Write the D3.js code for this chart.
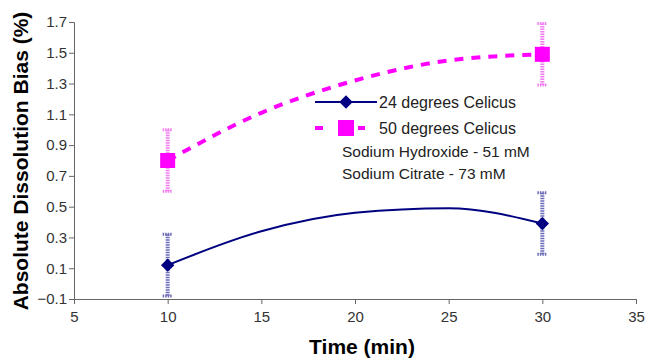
<!DOCTYPE html>
<html>
<head>
<meta charset="utf-8">
<script src="https://cdn.jsdelivr.net/npm/d3@7"></script>
<style>
  body { margin: 0; background: #fff; }
  svg { display: block; font-family: "Liberation Sans", Arial, sans-serif; }
</style>
</head>
<body>
<svg id="chart" width="649" height="358"></svg>
<script>
// measured points (time, bias, error)
const times = [10, 30];
const bias24 = [0.12, 0.39];
const err24 = [0.2, 0.2];
const bias50 = [0.80, 1.49];
const err50 = [0.2, 0.2];

// smoothed curve
const curveTimes = [10, 15, 20, 25, 30];
const curve24 = [0.12, 0.34, 0.46, 0.49, 0.39];
const curve50 = [0.80, 1.11, 1.32, 1.45, 1.49];

const xTicks = [5, 10, 15, 20, 25, 30, 35];
const yTicks = [-0.1, 0.1, 0.3, 0.5, 0.7, 0.9, 1.1, 1.3, 1.5, 1.7];
const legendLabels = ['24 degrees Celicus', '50 degrees Celicus'];
const notes = ['Sodium Hydroxide - 51 mM', 'Sodium Citrate - 73 mM'];

const svg = d3.select('#chart');
const x = d3.scaleLinear().domain([5, 35]).range([74, 636]);
const y = d3.scaleLinear().domain([-0.1, 1.7]).range([299, 22]);

const navy = '#000080';
const magenta = '#ff00ff';

// axes
const xAxis = svg.append('g')
    .attr('transform', `translate(0,${y(-0.1)})`)
    .call(d3.axisBottom(x).tickValues(xTicks).tickSize(5).tickPadding(7).tickFormat(d3.format('d')));
const yAxis = svg.append('g')
    .attr('transform', `translate(${x(5)},0)`)
    .call(d3.axisLeft(y).tickValues(yTicks).tickSize(5).tickPadding(2).tickFormat(d3.format('.1f')));
[xAxis, yAxis].forEach(a => {
    a.select('.domain').attr('stroke', '#666');
    a.selectAll('.tick line').attr('stroke', '#666');
    a.selectAll('.tick text').attr('font-size', 15).attr('fill', '#333')
        .attr('font-family', '"Liberation Sans", Arial, sans-serif');
});

svg.append('text')
    .attr('x', 362).attr('y', 354)
    .attr('text-anchor', 'middle')
    .attr('font-size', 21).attr('font-weight', 'bold')
    .text('Time (min)');
svg.append('text')
    .attr('transform', 'translate(28,161) rotate(-90)')
    .attr('text-anchor', 'middle')
    .attr('font-size', 21).attr('font-weight', 'bold')
    .text('Absolute Dissolution Bias (%)');

const line = d3.line()
    .x((d, i) => x(curveTimes[i]))
    .y(d => y(d))
    .curve(d3.curveMonotoneX);

svg.append('path').datum(curve50)
    .attr('d', line).attr('fill', 'none')
    .attr('stroke', magenta).attr('stroke-width', 4)
    .attr('stroke-dasharray', '9,8');
svg.append('path').datum(curve24)
    .attr('d', line).attr('fill', 'none')
    .attr('stroke', navy).attr('stroke-width', 2);

// error bars
function errorBars(vals, errs, color) {
    const g = svg.append('g');
    times.forEach((t, i) => {
        const cx = x(t);
        const top = y(vals[i] + errs[i]);
        const bot = y(vals[i] - errs[i]);
        g.append('line')
            .attr('x1', cx).attr('x2', cx).attr('y1', top).attr('y2', bot)
            .attr('stroke', color).attr('stroke-width', 4)
            .attr('stroke-dasharray', '1.5,1');
        [top, bot].forEach(yy => {
            g.append('line')
                .attr('x1', cx - 5).attr('x2', cx + 5).attr('y1', yy).attr('y2', yy)
                .attr('stroke', color).attr('stroke-width', 3)
                .attr('stroke-dasharray', '1.5,1');
        });
    });
}
errorBars(bias50, err50, '#f27df2');
errorBars(bias24, err24, '#6a6ab8');

// markers
svg.append('g').selectAll('rect').data(bias50).join('rect')
    .attr('x', (d, i) => x(times[i]) - 7.5)
    .attr('y', d => y(d) - 7.5)
    .attr('width', 15).attr('height', 15)
    .attr('fill', magenta);
const diamond = d3.symbol().type(d3.symbolDiamond2).size(115);
svg.append('g').selectAll('path').data(bias24).join('path')
    .attr('transform', (d, i) => `translate(${x(times[i])},${y(d)})`)
    .attr('d', diamond)
    .attr('fill', navy);

// legend
const leg = svg.append('g');
const ly = [102, 128];
leg.append('line').attr('x1', 315).attr('x2', 377).attr('y1', ly[0]).attr('y2', ly[0])
    .attr('stroke', navy).attr('stroke-width', 2);
leg.append('path').attr('transform', `translate(346,${ly[0]})`).attr('d', diamond).attr('fill', navy);
leg.append('line').attr('x1', 315).attr('x2', 377).attr('y1', ly[1]).attr('y2', ly[1])
    .attr('stroke', magenta).attr('stroke-width', 4).attr('stroke-dasharray', '8,35,7,100');
leg.append('rect').attr('x', 338).attr('y', ly[1] - 8).attr('width', 16).attr('height', 16).attr('fill', magenta);
legendLabels.forEach((t, i) => {
    leg.append('text').attr('x', 379).attr('y', ly[i] + 6)
        .attr('font-size', 16).attr('fill', '#222').text(t);
});
notes.forEach((t, i) => {
    leg.append('text').attr('x', 342).attr('y', 157 + i * 22)
        .attr('font-size', 15.5).attr('fill', '#222').text(t);
});
</script>
</body>
</html>
